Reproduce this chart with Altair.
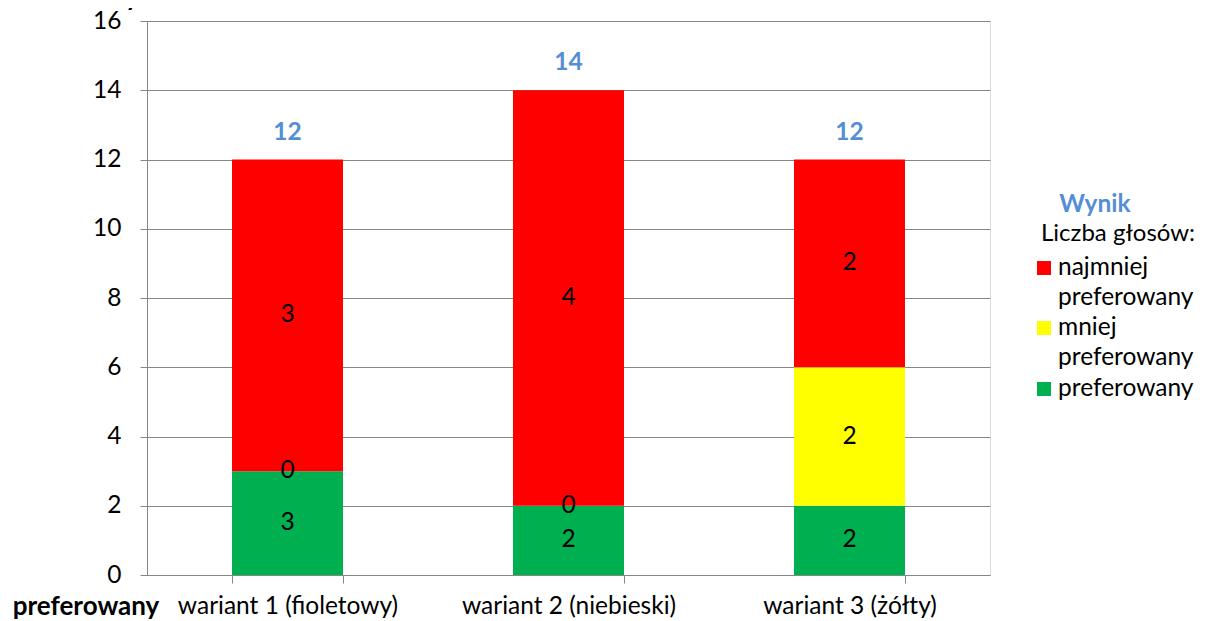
import altair as alt
import pandas as pd

categories = ["wariant 1 (fioletowy)", "wariant 2 (niebieski)", "wariant 3 (żółty)"]
series = ["preferowany", "mniej preferowany", "najmniej preferowany"]
colors = ["#00B050", "#FFFF00", "#FF0000"]
legend_lines = [["najmniej", "preferowany"], ["mniej", "preferowany"], ["preferowany"]]

# bar segment heights (weighted score)
score_pref = [3, 2, 2]
score_mniej = [0, 0, 4]
score_najmniej = [9, 12, 6]
# vote counts shown inside the segments
votes_pref = [3, 2, 2]
votes_mniej = [0, 0, 2]
votes_najmniej = [3, 4, 2]

y_ticks = [0, 2, 4, 6, 8, 10, 12, 14, 16]

rows = []
for i, (name, scores, votes) in enumerate(zip(series,
                                              [score_pref, score_mniej, score_najmniej],
                                              [votes_pref, votes_mniej, votes_najmniej])):
    for c, sc, v in zip(categories, scores, votes):
        rows.append({"cat": c, "series": name, "ord": i, "score": sc, "votes": v})
df = pd.DataFrame(rows)

FONT = "Lato"
FS = 24.5
GREY = "#868686"
BLUE = "#558ED5"
W, H = 843, 554

x_enc = alt.X("cat:N", sort=categories, title=None,
              scale=alt.Scale(paddingInner=0.605, paddingOuter=0.3025),
              axis=alt.Axis(tickBand="extent", tickSize=8, labelPadding=11, labelAngle=0,
                            labelLimit=500,
                            labelFont=FONT, labelFontSize=FS, labelColor="black",
                            domainColor=GREY, tickColor=GREY, grid=False))
y_scale = alt.Scale(domain=[0, 16], nice=False)

base = alt.Chart(df)

bars = base.mark_bar().encode(
    x=x_enc,
    y=alt.Y("sum(score):Q", stack="zero", scale=y_scale, title=None,
            axis=alt.Axis(values=y_ticks, tickSize=7, labelPadding=19,
                          labelFont=FONT, labelFontSize=FS, labelColor="black",
                          domainColor=GREY, tickColor=GREY, gridColor=GREY, grid=True)),
    color=alt.Color("series:N", scale=alt.Scale(domain=series, range=colors), legend=None),
    order=alt.Order("ord:Q"),
)

inner = base.transform_stack(
    stack="score", groupby=["cat"], sort=[alt.SortField("ord")], as_=["y0", "y1"]
).transform_calculate(mid="(datum.y0 + datum.y1) / 2").mark_text(
    font=FONT, fontSize=FS, color="black", baseline="middle", align="center"
).encode(
    x=alt.X("cat:N", sort=categories),
    y=alt.Y("mid:Q", scale=y_scale),
    text=alt.Text("votes:Q"),
)

totals = base.mark_text(
    font=FONT, fontSize=FS, fontWeight="bold", color=BLUE, baseline="middle", align="center", dy=-27
).encode(
    x=alt.X("cat:N", sort=categories),
    y=alt.Y("sum(score):Q", scale=y_scale),
    text=alt.Text("sum(score):Q"),
)

anno = alt.Chart(pd.DataFrame({"t": [series[0]]}))
top_txt = anno.mark_text(font=FONT, fontSize=26, fontWeight="bold", color="black",
                         align="right", baseline="alphabetic").encode(
    x=alt.value(-8), y=alt.value(-15), text="t:N")
bottom_txt = anno.mark_text(font=FONT, fontSize=26, fontWeight="bold", color="black",
                            align="center", baseline="middle").encode(
    x=alt.value(-61), y=alt.value(586), text="t:N")

leg_title = anno.mark_text(font=FONT, fontSize=FS, fontWeight="bold", color=BLUE,
                           align="center", baseline="middle").encode(
    x=alt.value(948), y=alt.value(184), text=alt.value("Wynik"))
leg_sub = anno.mark_text(font=FONT, fontSize=24, color="black",
                         align="left", baseline="middle").encode(
    x=alt.value(894), y=alt.value(213), text=alt.value("Liczba głosów:"))

leg_layers = []
sym_y = [247, 307, 368]
for idx, (lines, col, sy) in enumerate(zip(legend_lines, [colors[2], colors[1], colors[0]], sym_y)):
    leg_layers.append(anno.mark_square(size=196, color=col, opacity=1, filled=True).encode(
        x=alt.value(897), y=alt.value(sy)))
    leg_layers.append(anno.mark_text(font=FONT, fontSize=FS, color="black", align="left",
                                     baseline="alphabetic", lineHeight=30).encode(
        x=alt.value(911), y=alt.value(sy + 7), text=alt.value(lines)))

chart = alt.layer(bars, inner, totals, top_txt, bottom_txt, leg_title, leg_sub, *leg_layers).properties(
    width=W, height=H,
    autosize=alt.AutoSizeParams(type="none"),
    padding={"left": 139, "top": 13, "right": 208, "bottom": 46},
).configure_view(stroke=None).configure(background="white")

chart.save("out.html", embed_options={"renderer": "svg", "actions": False})
